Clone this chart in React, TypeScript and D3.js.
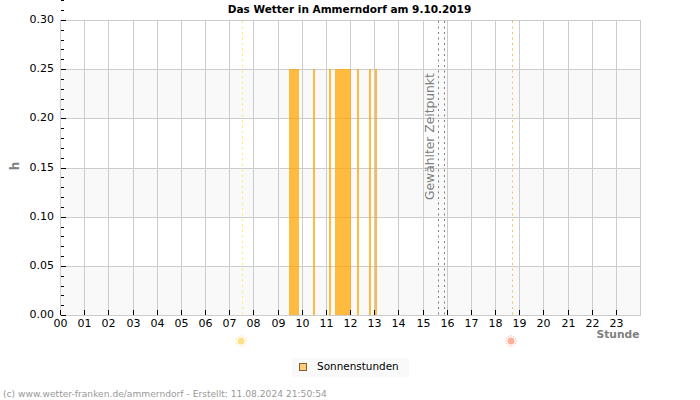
import React, { useEffect, useRef } from 'react';
import * as d3 from 'd3';

const hours = d3.range(0, 24);
const yTicks = [0, 0.05, 0.1, 0.15, 0.2, 0.25, 0.3];
const yMinorTicks = d3.range(0, 61).map(i => i * 0.01);

// sunshine periods of the day, start and end in decimal hours
const sunStart = [9.476, 10.47, 11.13, 11.38, 12.29, 12.79, 13.03];
const sunEnd = [9.89, 10.55, 11.21, 12.04, 12.37, 12.87, 13.11];
const sunValue = [0.25, 0.25, 0.25, 0.25, 0.25, 0.25, 0.25];

const sunrise = 7.53;
const sunset = 18.71;
const selectedTime = [15.64, 15.89];

const title = 'Das Wetter in Ammerndorf am 9.10.2019';
const footer = '(c) www.wetter-franken.de/ammerndorf - Erstellt: 11.08.2024 21:50:54';

const FONT = '"DejaVu Sans", sans-serif';

const App: React.FC = () => {
  const svgRef = useRef<SVGSVGElement>(null);

  useEffect(() => {
    const svg = d3.select(svgRef.current);
    svg.selectAll('*').remove();

    const x = d3.scaleLinear().domain([0, 24]).rangeRound([60, 640]);
    const y = d3.scaleLinear().domain([0, 0.3]).rangeRound([315, 20]);

    // alternating bands behind the grid
    const bands = d3.pairs(yTicks).filter((_, i) => i % 2 === 0);
    svg.append('g').selectAll('rect').data(bands).join('rect')
      .attr('x', x(0))
      .attr('width', x(24) - x(0))
      .attr('y', d => y(d[1]))
      .attr('height', d => y(d[0]) - y(d[1]))
      .attr('fill', '#f9f9f9');

    const grid = svg.append('g').attr('stroke', '#cccccc').attr('stroke-width', 1);
    grid.selectAll('line.v').data(hours.slice(1)).join('line')
      .attr('class', 'v')
      .attr('x1', d => x(d) + 0.5).attr('x2', d => x(d) + 0.5)
      .attr('y1', y(0.3)).attr('y2', y(0));
    grid.selectAll('line.h').data(yTicks.slice(1, -1)).join('line')
      .attr('class', 'h')
      .attr('x1', x(0)).attr('x2', x(24))
      .attr('y1', d => y(d) + 0.5).attr('y2', d => y(d) + 0.5);

    svg.append('g').selectAll('rect').data(sunStart).join('rect')
      .attr('x', d => x(d))
      .attr('width', (d, i) => x(sunEnd[i]) - x(d))
      .attr('y', (_, i) => y(sunValue[i]))
      .attr('height', (_, i) => y(0) - y(sunValue[i]))
      .attr('fill', '#ffa500')
      .attr('fill-opacity', 0.75);

    // frame
    svg.append('rect')
      .attr('x', x(0) + 0.5).attr('y', y(0.3) + 0.5)
      .attr('width', x(24) - x(0)).attr('height', y(0) - y(0.3))
      .attr('fill', 'none').attr('stroke', '#cccccc');

    // sunrise, sunset and the selected time
    const marker = (hour: number, color: string) => svg.append('line')
      .attr('x1', x(hour) + 0.5).attr('x2', x(hour) + 0.5)
      .attr('y1', y(0.3) + 1).attr('y2', y(0))
      .attr('stroke', color)
      .attr('stroke-dasharray', '2,3.5');
    marker(sunrise, '#ffee55');
    marker(sunset, '#f5c060');
    selectedTime.forEach(t => marker(t, '#808080'));

    svg.append('text')
      .attr('transform', 'translate(434,200) rotate(-90)')
      .attr('font-family', FONT).attr('font-size', 12.3)
      .attr('fill', '#808080')
      .text('Gewählter Zeitpunkt');

    const xAxis = d3.axisBottom(x)
      .tickValues(hours)
      .tickSize(-5)
      .tickPadding(4)
      .tickFormat(d => d3.format('02d')(d as number));
    const xG = svg.append('g').attr('transform', 'translate(0,315)').call(xAxis);
    xG.select('.domain').remove();
    xG.selectAll('.tick text')
      .attr('font-family', FONT).attr('font-size', 11).attr('fill', '#000');

    const yAxis = d3.axisLeft(y)
      .tickValues(yTicks)
      .tickSize(-5)
      .tickPadding(7)
      .tickFormat(d3.format('.2f'));
    const yG = svg.append('g').attr('transform', 'translate(61,0)').call(yAxis);
    yG.select('.domain').remove();
    yG.selectAll('.tick text')
      .attr('font-family', FONT).attr('font-size', 11).attr('fill', '#000')
      .attr('dy', '0.25em');

    const yMinor = d3.axisLeft(y)
      .tickValues(yMinorTicks.filter(v => Math.round(v * 100) % 5 !== 0))
      .tickSize(-3)
      .tickFormat(() => '');
    const yMinorG = svg.append('g').attr('transform', 'translate(61,0)').call(yMinor);
    yMinorG.select('.domain').remove();

    // sun icons under the axis
    const sunIcon = (hour: number, color: string) => {
      const g = svg.append('g').attr('transform', `translate(${x(hour) - 1},341)`);
      g.append('circle').attr('r', 3.5).attr('fill', color);
      g.selectAll('line').data(d3.range(0, 12)).join('line')
        .attr('x1', d => 4.5 * Math.cos(d * Math.PI / 6))
        .attr('y1', d => 4.5 * Math.sin(d * Math.PI / 6))
        .attr('x2', d => 6 * Math.cos(d * Math.PI / 6))
        .attr('y2', d => 6 * Math.sin(d * Math.PI / 6))
        .attr('stroke', color)
        .attr('stroke-opacity', 0.8);
    };
    sunIcon(sunrise, '#ffe08a');
    sunIcon(sunset, '#ffb09a');

    svg.append('text')
      .attr('x', 349.5).attr('y', 13)
      .attr('text-anchor', 'middle')
      .attr('font-family', FONT).attr('font-size', 10.5).attr('font-weight', 'bold')
      .attr('fill', '#000')
      .text(title);

    svg.append('text')
      .attr('x', 639.5).attr('y', 338)
      .attr('text-anchor', 'end')
      .attr('font-family', FONT).attr('font-size', 10.7).attr('font-weight', 'bold')
      .attr('fill', '#808080')
      .text('Stunde');

    svg.append('text')
      .attr('transform', 'translate(19,166) rotate(-90)')
      .attr('text-anchor', 'middle')
      .attr('font-family', FONT).attr('font-size', 12).attr('font-weight', 'bold')
      .attr('fill', '#808080')
      .text('h');

    // legend
    svg.append('rect')
      .attr('x', 292).attr('y', 358).attr('width', 117).attr('height', 19)
      .attr('fill', '#f9f9f9');
    svg.append('rect')
      .attr('x', 299.5).attr('y', 363.5).attr('width', 7).attr('height', 7)
      .attr('fill', '#ffcc77').attr('stroke', '#806030');
    svg.append('text')
      .attr('x', 317).attr('y', 370)
      .attr('font-family', FONT).attr('font-size', 10.45)
      .attr('fill', '#000')
      .text('Sonnenstunden');

    svg.append('text')
      .attr('x', 3).attr('y', 397)
      .attr('font-family', FONT).attr('font-size', 9.15)
      .attr('fill', '#999999')
      .text(footer);
  }, []);

  return (
    <svg
      ref={svgRef}
      width={700}
      height={400}
      style={{ position: 'fixed', left: 0, top: 0, background: '#fff' }}
    />
  );
};

export default App;
